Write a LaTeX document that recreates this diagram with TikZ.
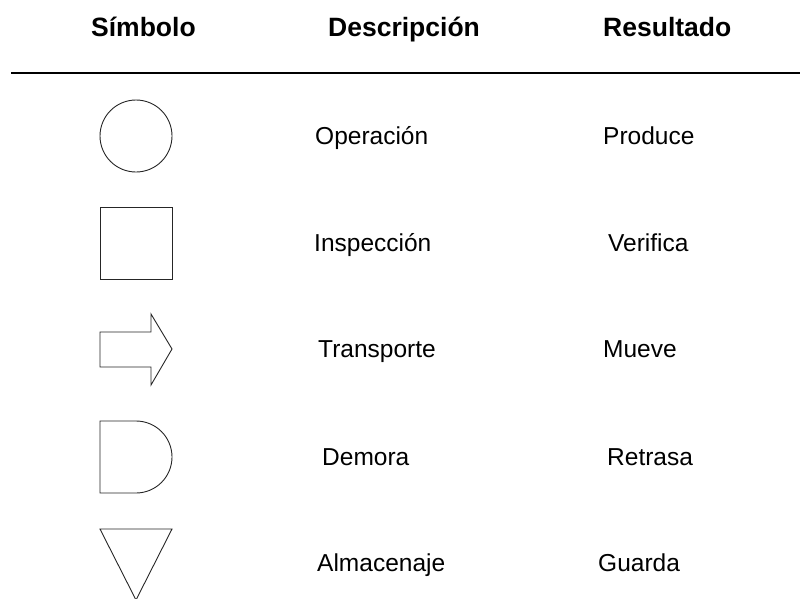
\documentclass[tikz,border=0pt]{standalone}
\usepackage{fontspec}
\setmainfont{Liberation Sans}
\begin{document}
\begin{tikzpicture}[x=1pt,y=-1pt,
  sym/.style={draw=black!85,line width=0.9pt},
  hdr/.style={anchor=base west,inner sep=0pt,font=\fontsize{26.5}{30}\selectfont\bfseries},
  txt/.style={anchor=base west,inner sep=0pt,font=\fontsize{24.5}{29}\selectfont}]
\useasboundingbox (0,0) rectangle (800,598);
\clip (0,0) rectangle (800,598);
% headers
\node[hdr] (h1) at (91,36.5) {Símbolo};
\node[hdr] (h2) at (328,36.5) {Descripción};
\node[hdr] (h3) at (603,36.5) {Resultado};
\draw[line width=1.2pt] (11,73) -- (800,73);
% symbols
\draw[sym] (136,136) circle (36);
\draw[sym] (100,207) rectangle (172,279);
\draw[sym] (100,332) -- (151,332) -- (151,314) -- (172,349) -- (151,385) -- (151,367) -- (100,367) -- cycle;
\draw[sym] (136,421) -- (100,421) -- (100,493) -- (136,493) arc (90:-90:36) -- cycle;
\draw[sym] (100,529) -- (172,529) -- (136,600) -- cycle;
% descriptions
\node[txt] (d1) at (315,144.5) {Operación};
\node[txt] (d2) at (314,251.5) {Inspección};
\node[txt] (d3) at (318,357.5) {Transporte};
\node[txt] (d4) at (322,465.5) {Demora};
\node[txt] (d5) at (317,571.5) {Almacenaje};
% results
\node[txt] (r1) at (603,144.5) {Produce};
\node[txt] (r2) at (608,251.5) {Verifica};
\node[txt] (r3) at (603,357.5) {Mueve};
\node[txt] (r4) at (607,465.5) {Retrasa};
\node[txt] (r5) at (598,571.5) {Guarda};
\end{tikzpicture}
\end{document}
